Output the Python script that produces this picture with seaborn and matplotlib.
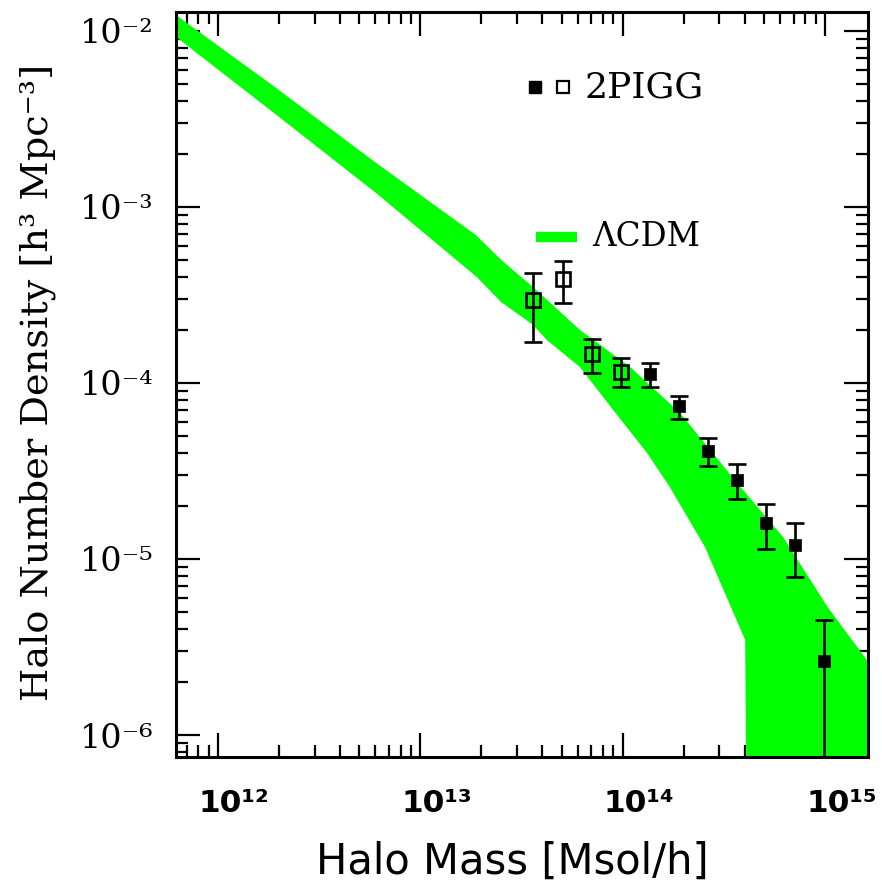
import numpy as np
import matplotlib
matplotlib.use("Agg")
import matplotlib.pyplot as plt
import matplotlib.transforms as mtransforms
import seaborn as sns
from matplotlib.ticker import NullFormatter, LogLocator

# полоса модели LCDM: верхний и нижний край
band_up_mass = [5.8e11, 6.2e11, 1.94e12, 6.04e12, 1.88e13, 2.51e13, 3.6e13, 6.15e13, 1.09e14,
                1.92e14, 3.68e14, 6.21e14, 1.03e15, 1.7e15]
band_up_dens = [1.31e-2, 1.23e-2, 4.74e-3, 1.78e-3, 6.93e-4, 5.0e-4, 3.51e-4, 2.00e-4, 1.23e-4,
                6.76e-5, 2.70e-5, 1.33e-5, 5.33e-6, 2.45e-6]
band_lo_mass = [5.8e11, 6.2e11, 1.94e12, 6.04e12, 1.9e13, 2.51e13, 3.6e13, 4.23e13, 6.15e13,
                8.97e13, 1.32e14, 1.71e14, 2.55e14, 4.03e14, 4.12e14, 1.7e15]
band_lo_dens = [9.84e-3, 9.25e-3, 3.34e-3, 1.20e-3, 4.0e-4, 2.88e-4, 2.14e-4, 1.75e-4, 1.23e-4,
                7.03e-5, 4.0e-5, 2.56e-5, 1.17e-5, 3.47e-6, 1e-7, 1e-7]

# 2PIGG: открытые квадраты
open_mass = [3.6e13, 5.07e13, 7.06e13, 9.8e13]
open_dens = [2.96e-4, 3.9e-4, 1.46e-4, 1.155e-4]
open_hi = [4.2e-4, 4.93e-4, 1.78e-4, 1.39e-4]
open_lo = [1.71e-4, 2.85e-4, 1.14e-4, 9.5e-5]

# 2PIGG: закрашенные квадраты
fill_mass = [1.37e14, 1.9e14, 2.64e14, 3.68e14, 5.12e14, 7.1e14, 9.9e14]
fill_dens = [1.12e-4, 7.4e-5, 4.1e-5, 2.81e-5, 1.6e-5, 1.2e-5, 2.63e-6]
fill_hi = [1.3e-4, 8.4e-5, 4.87e-5, 3.47e-5, 2.05e-5, 1.6e-5, 4.5e-6]
fill_lo = [9.5e-5, 6.2e-5, 3.37e-5, 2.19e-5, 1.14e-5, 7.9e-6, 1e-8]

x_ticks = [1e12, 1e13, 1e14, 1e15]
x_tick_labels = ["10¹²", "10¹³", "10¹⁴", "10¹⁵"]
y_ticks = [1e-6, 1e-5, 1e-4, 1e-3, 1e-2]
y_tick_labels = ["10⁻⁶", "10⁻⁵", "10⁻⁴", "10⁻³", "10⁻²"]

sns.set_style("ticks")
plt.rcParams["font.family"] = ["DejaVu Sans"]
plt.rcParams.update({"text.color": "black", "axes.labelcolor": "black",
                     "xtick.color": "black", "ytick.color": "black"})

fig = plt.figure(figsize=(8.82, 8.83), dpi=100)
ax = fig.add_axes([0.1995, 0.1427, 0.7846, 0.8437])
ax.set_xscale("log")
ax.set_yscale("log")

# полоса модели
poly_x = band_up_mass + band_lo_mass[::-1]
poly_y = band_up_dens + band_lo_dens[::-1]
ax.fill(poly_x, poly_y, color="#00ff00", lw=0, zorder=1)


# ошибки
def yerr(d, lo, hi):
    d = np.array(d)
    return [d - np.array(lo), np.array(hi) - d]


for m, d, lo, hi in [(open_mass, open_dens, open_lo, open_hi), (fill_mass, fill_dens, fill_lo, fill_hi)]:
    ax.errorbar(m, d, yerr=yerr(d, lo, hi), fmt="none", ecolor="black", elinewidth=1.9,
                capsize=6.5, capthick=1.9, zorder=3)

sns.scatterplot(x=fill_mass, y=fill_dens, marker="s", s=85, color="black", edgecolor="black",
                linewidth=0.5, ax=ax, zorder=4)
ax.plot(open_mass, open_dens, "s", ms=9.5, mfc="none", mec="black", mew=1.9, zorder=4)

ax.set_xlim(6.2e11, 1.63e15)
ax.set_ylim(7.5e-7, 1.28e-2)

ax.set_xticks(x_ticks, labels=x_tick_labels)
ax.set_yticks(y_ticks, labels=y_tick_labels)
ax.xaxis.set_minor_locator(LogLocator(base=10, subs=np.arange(2, 10)))
ax.yaxis.set_minor_locator(LogLocator(base=10, subs=np.arange(2, 10)))
ax.xaxis.set_minor_formatter(NullFormatter())
ax.yaxis.set_minor_formatter(NullFormatter())

ax.tick_params(which="both", direction="in", top=True, right=True, width=1.6, color="black",
               labelcolor="black")
ax.tick_params(which="major", length=17)
ax.tick_params(which="minor", length=8.5)
ax.tick_params(axis="x", pad=23)
ax.tick_params(axis="y", pad=16)

# подписи по x: "10" по центру метки, степень справа
shift = mtransforms.ScaledTranslation(-0.19, 0, fig.dpi_scale_trans)
for lab in ax.get_xticklabels():
    lab.set_fontsize(22.5)
    lab.set_fontweight("bold")
    lab.set_ha("left")
    lab.set_transform(lab.get_transform() + shift)
for lab in ax.get_yticklabels():
    lab.set_fontsize(24)
    lab.set_family("DejaVu Serif")
for s in ax.spines.values():
    s.set_linewidth(2.2)
    s.set_color("black")

ax.set_xlabel("Halo Mass [Msol/h]", fontsize=30, color="black")
ax.xaxis.set_label_coords(0.486, -0.14)
ax.xaxis.label.set_va("center")
ax.set_ylabel("Halo Number Density [h³ Mpc⁻³]", fontsize=27.5, family="DejaVu Serif", color="black")
ax.yaxis.set_label_coords(-0.2, 0.503)
ax.yaxis.label.set_va("center")

# легенда вручную
ax.plot([0.519], [0.899], "s", ms=8.5, color="black", transform=ax.transAxes)
ax.plot([0.559], [0.899], "s", ms=8, mfc="none", mec="black", mew=1.6, transform=ax.transAxes)
ax.text(0.591, 0.899, "2PIGG", transform=ax.transAxes, va="center", ha="left",
        fontsize=26, family="DejaVu Serif", color="black")
ax.plot([0.52, 0.58], [0.698, 0.698], color="#00ff00", lw=7.5, solid_capstyle="butt",
        transform=ax.transAxes)
ax.text(0.601, 0.698, "ΛCDM", transform=ax.transAxes, va="center", ha="left",
        fontsize=23.5, family="DejaVu Serif", color="black")

plt.savefig("out.png", dpi=100)
